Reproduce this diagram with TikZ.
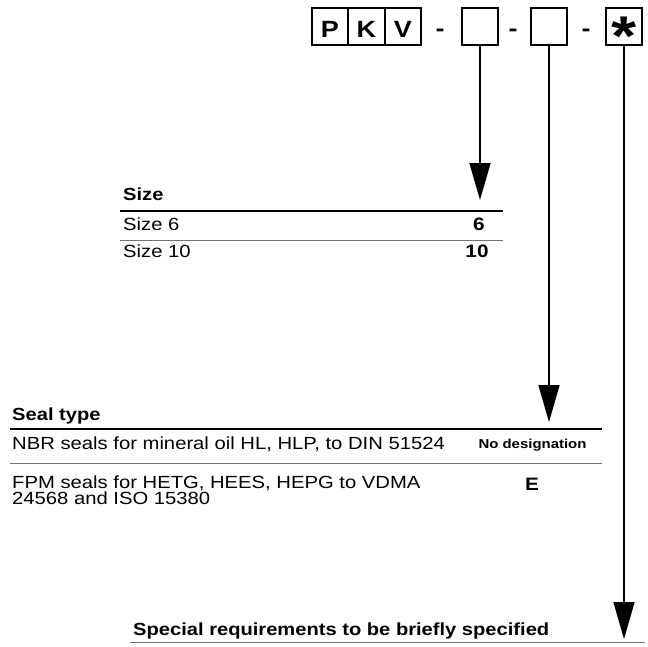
\documentclass[tikz,border=0pt]{standalone}
\usepackage{fontspec}
\setmainfont[FakeStretch=1.15]{Liberation Sans}
\usetikzlibrary{positioning,arrows.meta}

\begin{document}
\begin{tikzpicture}[x=1pt, y=-1pt,
  codebox/.style={draw, line width=2pt, minimum size=36.5pt, inner sep=0pt, outer sep=0pt,
    text height=21pt, text depth=0pt, font=\fontsize{23.5}{23.5}\selectfont\bfseries},
  hyph/.style={inner sep=0pt, anchor=base, font=\fontsize{23.5}{23.5}\selectfont\bfseries},
  headtext/.style={inner sep=0pt, anchor=base west, font=\fontsize{17.5}{17.5}\selectfont\bfseries},
  rowtext/.style={inner sep=0pt, anchor=base west, font=\fontsize{17.6}{16}\selectfont},
  codetext/.style={inner sep=0pt, anchor=base, font=\fontsize{18}{18}\selectfont\bfseries},
  thickrule/.style={line width=2.2pt},
  thinrule/.style={line width=0.9pt, black!55},
  pointer/.style={line width=1.5pt, -{Triangle[length=37pt,width=21pt]}}]

\useasboundingbox (0,0) rectangle (648,646);

% Order code
\node[codebox] (p) at (330,26.5) {P};
\node[codebox, right=0pt of p] (k) {K};
\node[codebox, right=0pt of k] (v) {V};
\node[hyph] (h1) at (440,36) {-};
\node[codebox] (b2) at (480,26.5) {};
\node[hyph] (h2) at (513,36) {-};
\node[codebox] (b3) at (549,26.5) {};
\node[hyph] (h3) at (586,36) {-};
\node[codebox] (b4) at (624,26.5) {\smash{\raisebox{-18.5pt}{\fontsize{56}{56}\selectfont *}}};

% Size
\node[headtext] (sizehead) at (123,200) {Size};
\draw[thickrule] (120,211) -- (503,211);
\node[rowtext] (size6) at (123,230) {Size 6};
\node[codetext] (code6) at (479,230) {6};
\draw[thinrule] (120,240) -- (503,240);
\node[rowtext] (size10) at (123,257) {Size 10};
\node[codetext] (code10) at (477,257) {10};

% Seal type
\node[headtext] (sealhead) at (12,420) {Seal type};
\draw[thickrule] (10,429) -- (602,429);
\node[rowtext] (nbr) at (12,449) {NBR seals for mineral oil HL, HLP, to DIN 51524};
\node[codetext, font=\fontsize{13}{13}\selectfont\bfseries] (nodes) at (532.5,448) {No designation};
\draw[thinrule] (10,463) -- (602,463);
\node[rowtext, anchor=north west, align=left] (fpm) at (12,476) {FPM seals for HETG, HEES, HEPG to VDMA\\24568 and ISO 15380};
\node[codetext] (codee) at (532,490) {E};

% Special requirements
\node[headtext] (special) at (133,635) {Special requirements to be briefly specified};
\draw[thinrule] (130,642) -- (645,642);

% Pointers
\coordinate (tip2) at (480,200);
\coordinate (tip3) at (549,422);
\coordinate (tip4) at (624,639);
\draw[pointer] (b2) -- (tip2);
\draw[pointer] (b3) -- (tip3);
\draw[pointer] (b4) -- (tip4);

\end{tikzpicture}
\end{document}
